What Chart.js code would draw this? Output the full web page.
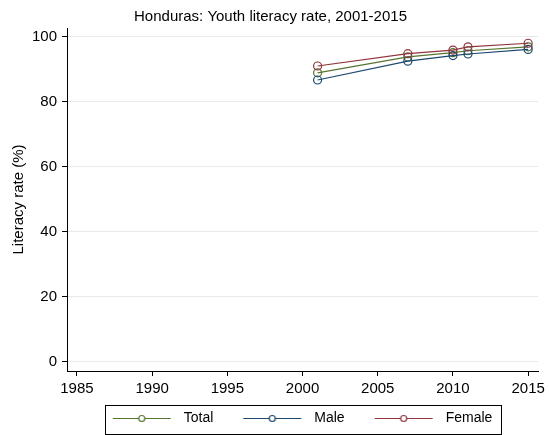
<!DOCTYPE html>
<html lang="en">
<head>
    <meta charset="UTF-8">
    <title>Honduras: Youth literacy rate, 2001-2015</title>
    <script src="https://cdn.jsdelivr.net/npm/chart.js"></script>
    <style>
        body { margin: 0; background: #fff; }
        #wrap { width: 549px; height: 435px; }
    </style>
</head>
<body>
    <div id="wrap">
        <canvas id="litChart" width="549" height="435"></canvas>
    </div>

    <script>
        // Values
        const years = [2001, 2007, 2010, 2011, 2015];
        const total = [88.9, 93.8, 95.1, 95.7, 96.9];
        const male = [86.7, 92.5, 94.2, 94.7, 96.1];
        const female = [91.0, 94.8, 95.9, 96.9, 98.0];
        const xTicks = [1985, 1990, 1995, 2000, 2005, 2010, 2015];
        const yTicks = [0, 20, 40, 60, 80, 100];

        const FONT = '"Liberation Sans", Arial, sans-serif';
        const GREEN = '#55752f', NAVY = '#1a476f', MAROON = '#90353b';

        // Legend symbol: a line with a hollow circle in the middle
        function legendIcon(color) {
            const c = document.createElement('canvas');
            c.width = 84;
            c.height = 14;
            const g = c.getContext('2d');
            g.strokeStyle = color;
            g.lineWidth = 1.2;
            g.beginPath();
            g.moveTo(20, 7.5);
            g.lineTo(78, 7.5);
            g.stroke();
            g.fillStyle = '#fff';
            g.beginPath();
            g.arc(49, 7.5, 3, 0, Math.PI * 2);
            g.fill();
            g.stroke();
            return c;
        }

        function series(label, values, color, order) {
            return {
                label: label,
                data: years.map((yr, i) => ({ x: yr, y: values[i] })),
                borderColor: color,
                backgroundColor: 'transparent',
                borderWidth: 1.2,
                pointRadius: 4,
                pointBorderWidth: 1.2,
                pointBackgroundColor: 'transparent',
                pointBorderColor: color,
                order: order
            };
        }

        // Nudge the legend a bit left and draw a box around it
        const legendBorder = {
            id: 'legendBorder',
            afterLayout(chart) {
                const lg = chart.legend;
                if (!lg) return;
                lg.left -= 10;
                lg.right -= 10;
            },
            afterDraw(chart) {
                const lg = chart.legend;
                if (!lg || !lg.legendHitBoxes.length) return;
                const boxes = lg.legendHitBoxes;
                const first = boxes[0], last = boxes[boxes.length - 1];
                const left = first.left + 20 - 8;
                const right = last.left + last.width + 8;
                const ctx = chart.ctx;
                ctx.save();
                ctx.strokeStyle = '#000';
                ctx.lineWidth = 1;
                ctx.strokeRect(Math.round(left) + 0.5, 405.5, Math.round(right - left), 29);
                ctx.restore();
            }
        };

        const ctx = document.getElementById('litChart').getContext('2d');
        new Chart(ctx, {
            type: 'line',
            data: {
                datasets: [
                    series('Total', total, GREEN, 3),
                    series('Male', male, NAVY, 2),
                    series('Female', female, MAROON, 1)
                ]
            },
            options: {
                responsive: false,
                animation: false,
                layout: { padding: { left: 0, right: 8, top: 0, bottom: 0 } },
                scales: {
                    x: {
                        type: 'linear',
                        min: 1984.34,
                        max: 2015.66,
                        afterBuildTicks: s => { s.ticks = xTicks.map(v => ({ value: v })); },
                        afterFit: s => { s.height = 30; },
                        grid: { drawOnChartArea: false, tickColor: '#000', tickLength: 5 },
                        border: { color: '#000', width: 1 },
                        ticks: {
                            color: '#000',
                            padding: 4,
                            maxRotation: 0,
                            font: { family: FONT, size: 15 },
                            callback: v => String(v)
                        }
                    },
                    y: {
                        min: -2.86,
                        max: 102.7,
                        afterBuildTicks: s => { s.ticks = yTicks.map(v => ({ value: v })); },
                        afterFit: s => { s.width = 67; },
                        grid: { color: '#eaeaea', tickColor: '#000', tickLength: 5 },
                        border: { color: '#000', width: 1 },
                        ticks: {
                            color: '#000',
                            padding: 5,
                            font: { family: FONT, size: 15 }
                        },
                        title: {
                            display: true,
                            text: 'Literacy rate (%)',
                            color: '#000',
                            font: { family: FONT, size: 15 },
                            padding: { top: 10, bottom: 0 }
                        }
                    }
                },
                plugins: {
                    title: {
                        display: true,
                        text: 'Honduras: Youth literacy rate, 2001-2015',
                        color: '#000',
                        font: { family: FONT, size: 15, weight: 'normal' },
                        padding: { top: 8, bottom: 2 }
                    },
                    legend: {
                        position: 'bottom',
                        fullSize: false,
                        labels: {
                            usePointStyle: true,
                            pointStyleWidth: 84,
                            boxHeight: 14,
                            padding: 10,
                            color: '#000',
                            font: { family: FONT, size: 14 },
                            generateLabels: chart => chart.data.datasets.map((ds, i) => ({
                                text: ds.label,
                                datasetIndex: i,
                                pointStyle: legendIcon(ds.borderColor),
                                fillStyle: 'transparent',
                                strokeStyle: 'transparent',
                                lineWidth: 0,
                                hidden: false
                            }))
                        }
                    },
                    tooltip: { enabled: false }
                }
            },
            plugins: [legendBorder]
        });
    </script>
</body>
</html>
